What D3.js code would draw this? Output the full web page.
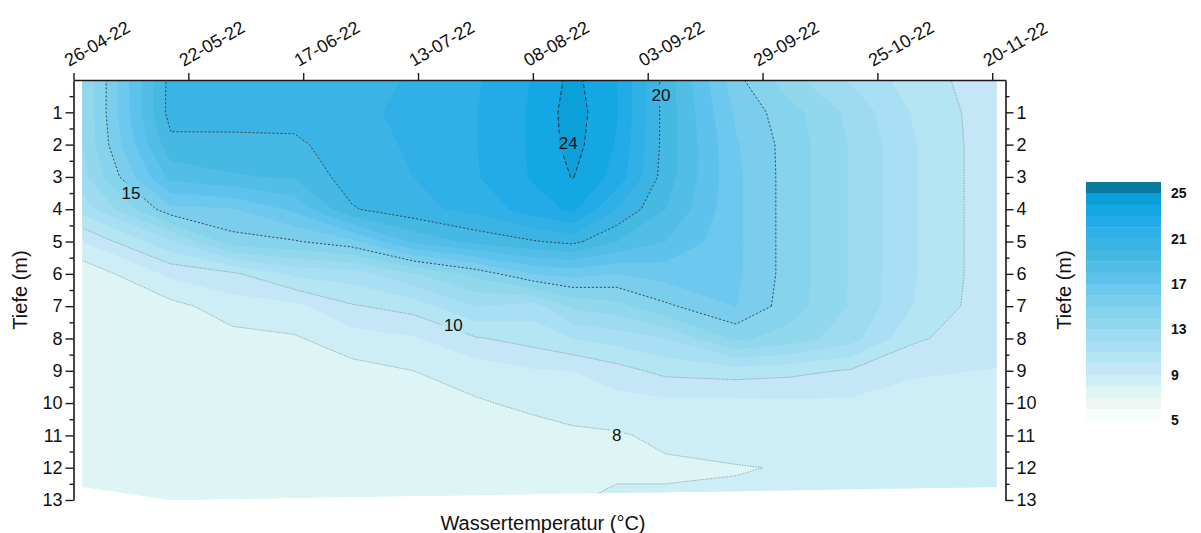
<!DOCTYPE html>
<html>
<head>
<meta charset="utf-8">
<script src="https://cdn.jsdelivr.net/npm/d3@7"></script>
<style>
  body { margin: 0; background: #fff; }
  svg { font-family: "Liberation Sans", Arial, sans-serif; }
</style>
</head>
<body>
<svg id="chart" width="1201" height="533"></svg>
<script>
// profile dates
var sampleDates = ["2022-04-28", "2022-05-18", "2022-06-01", "2022-06-15", "2022-06-28", "2022-07-12",
  "2022-07-26", "2022-08-08", "2022-08-17", "2022-08-27", "2022-09-07", "2022-09-23",
  "2022-10-05", "2022-10-19", "2022-11-02", "2022-11-21"];
// measuring depths (m)
var depths = [0, 1, 2, 3, 4, 5, 6, 7, 8, 9, 10, 11, 12, 13];
// deepest point of each profile (m)
var maxDepth = [12.6, 13.0, 12.97, 12.94, 12.91, 12.88, 12.85, 12.82, 12.8, 12.78, 12.76, 12.73, 12.7, 12.67, 12.64, 12.6];

// water temperature (°C), one profile per date, surface to bottom
var t0428 = [13.0, 13.0, 13.0, 12.6, 11.4, 9.0, 7.3, 7.2, 7.2, 7.1, 7.1, 7.1, 7.1, 7.1];
var t0518 = [20.4, 20.45, 19.7, 18.3, 15.7, 11.8, 9.2, 7.7, 7.5, 7.4, 7.3, 7.3, 7.3, 7.3];
var t0601 = [20.6, 20.55, 19.65, 18.9, 15.9, 14.6, 9.8, 8.5, 7.7, 7.5, 7.4, 7.4, 7.3, 7.3];
var t0615 = [20.7, 20.5, 19.75, 19.1, 17.2, 14.9, 11.2, 8.7, 7.9, 7.6, 7.5, 7.4, 7.4, 7.3];
var t0628 = [20.8, 20.8, 20.7, 20.5, 19.9, 15.7, 11.5, 9.9, 8.5, 7.7, 7.6, 7.5, 7.5, 7.4];
var t0712 = [21.05, 21.2, 21.1, 21.0, 20.7, 18.2, 12.9, 10.4, 8.9, 8.0, 7.7, 7.6, 7.5, 7.5];
var t0726 = [21.85, 21.95, 21.95, 21.9, 21.3, 19.3, 14.3, 12.0, 9.9, 8.4, 7.9, 7.7, 7.6, 7.6];
var t0808 = [23.05, 23.15, 23.15, 23.1, 22.5, 19.9, 16.0, 11.5, 10.4, 8.9, 8.2, 7.65, 7.6, 7.6];
var t0817 = [24.3, 24.5, 24.4, 24.05, 23.2, 20.3, 16.3, 13.2, 11.0, 9.0, 8.35, 7.85, 7.7, 7.9];
var t0827 = [23.0, 23.05, 22.9, 22.6, 21.0, 19.0, 16.0, 13.6, 11.4, 9.6, 8.6, 7.9, 7.75, 8.25];
var t0907 = [19.6, 19.6, 19.6, 19.5, 19.0, 18.0, 16.4, 14.8, 12.0, 10.3, 8.7, 8.2, 7.85, 8.15];
var t0923 = [15.3, 15.8, 16.1, 16.2, 16.2, 16.2, 16.2, 16.0, 14.2, 10.5, 8.7, 8.45, 7.95, 8.15];
var t1005 = [13.4, 14.4, 14.6, 14.6, 14.6, 14.6, 14.6, 14.5, 13.6, 10.3, 8.8, 8.6, 8.05, 8.3];
var t1019 = [11.9, 12.7, 12.9, 12.9, 12.9, 12.9, 12.9, 12.9, 12.4, 9.9, 8.8, 8.7, 8.5, 8.5];
var t1102 = [10.5, 10.9, 11.1, 11.1, 11.1, 11.1, 11.1, 11.0, 10.2, 9.05, 8.85, 8.75, 8.65, 8.6];
var t1121 = [9.4, 9.35, 9.3, 9.3, 9.3, 9.3, 9.3, 9.25, 9.2, 8.98, 8.85, 8.75, 8.7, 8.65];
var profiles = [t0428, t0518, t0601, t0615, t0628, t0712, t0726, t0808, t0817, t0827,
  t0907, t0923, t1005, t1019, t1102, t1121];

// colour levels (°C) and their fills
var levels = [5, 6, 7, 8, 9, 10, 11, 12, 13, 14, 15, 16, 17, 18, 19, 20, 21, 22, 23, 24, 25];
var bandColors = ["#f6fdfd", "#eef6f4", "#ddf6f5", "#cdeef6", "#c4e6f6", "#b4e5f3", "#a9dff4",
  "#9edbf0", "#91d8ec", "#85d3ec", "#7bcdee", "#6cc8ee", "#5ec3ec", "#52bee8", "#46b8e4",
  "#3bb4e5", "#2fb0e6", "#22abe6", "#14a7e4", "#0ca0da", "#0a7b9e"];
var legendTicks = [5, 9, 13, 17, 21, 25];

// drawn isotherms and where their labels sit
var isoLines = [8, 10, 15, 20, 24];
var isoLabels = [
  {value: 15, date: "2022-05-09", depth: 3.5},
  {value: 10, date: "2022-07-21", depth: 7.6},
  {value: 8, date: "2022-08-27", depth: 11.0},
  {value: 20, date: "2022-09-06", depth: 0.48},
  {value: 24, date: "2022-08-16", depth: 1.98}
];

var dateTicks = ["2022-04-26", "2022-05-22", "2022-06-17", "2022-07-13", "2022-08-08",
  "2022-09-03", "2022-09-29", "2022-10-25", "2022-11-20"];
var depthTicks = [1, 2, 3, 4, 5, 6, 7, 8, 9, 10, 11, 12, 13];
var depthMinor = [0.5, 1.5, 2.5, 3.5, 4.5, 5.5, 6.5, 7.5, 8.5, 9.5, 10.5, 11.5, 12.5];

var parse = d3.utcParse("%Y-%m-%d");
var svg = d3.select("#chart");
var defs = svg.append("defs");

var x = d3.scaleUtc()
  .domain([parse("2022-04-26"), parse("2022-11-23")])
  .range([73.5, 1005.5]);
var y = d3.scaleLinear().domain([0, 13]).range([80, 500]);

var nx = sampleDates.length, ny = depths.length;
var sx = sampleDates.map(function (d) { return x(parse(d)); });

// grid index -> pixel, piecewise along the real sample dates / depths
var col = d3.scaleLinear().domain(d3.range(nx)).range(sx).clamp(true);
var row = d3.scaleLinear().domain(d3.range(ny)).range(depths.map(y)).clamp(true);

var grid = new Array(nx * ny);
profiles.forEach(function (p, i) {
  p.forEach(function (v, j) { grid[j * nx + i] = v; });
});

var path = d3.geoPath(d3.geoTransform({
  point: function (px, py) { this.stream.point(col(px - 0.5), row(py - 0.5)); }
}));

var bands = d3.contours().size([nx, ny]).thresholds(levels)(grid);
var lines = d3.contours().size([nx, ny]).thresholds(isoLines)(grid);

// area covered by the profiles
var hull = sx.map(function (v) { return [v, y(0)]; })
  .concat(sx.map(function (v, i) { return [v, y(maxDepth[i])]; }).reverse());
defs.append("clipPath").attr("id", "hull")
  .append("path").attr("d", d3.line()(hull) + "Z");
defs.append("clipPath").attr("id", "inner")
  .append("rect")
  .attr("x", sx[0] + 1).attr("y", y(0) + 1)
  .attr("width", sx[nx - 1] - sx[0] - 2).attr("height", y(13) - y(0));

var plot = svg.append("g").attr("clip-path", "url(#hull)");

plot.selectAll("path.band")
  .data(bands)
  .enter().append("path")
  .attr("class", "band")
  .attr("d", path)
  .attr("fill", function (d, i) { return bandColors[i]; })
  .attr("stroke", function (d, i) { return bandColors[i]; })
  .attr("stroke-width", 0.4);

// labels first, so the mask can leave a gap in the lines
var labelG = svg.append("g");
labelG.selectAll("text")
  .data(isoLabels)
  .enter().append("text")
  .attr("x", function (d) { return x(parse(d.date)); })
  .attr("y", function (d) { return y(d.depth); })
  .attr("text-anchor", "middle")
  .attr("dominant-baseline", "central")
  .style("font-size", "17px")
  .attr("fill", "#111")
  .text(function (d) { return d.value; });

var mask = defs.append("mask").attr("id", "labelGap").attr("maskUnits", "userSpaceOnUse")
  .attr("x", 0).attr("y", 0).attr("width", 1201).attr("height", 533);
mask.append("rect").attr("width", 1201).attr("height", 533).attr("fill", "#fff");
labelG.selectAll("text").each(function () {
  var b = this.getBBox();
  mask.append("rect")
    .attr("x", b.x - 2).attr("y", b.y - 1)
    .attr("width", b.width + 4).attr("height", b.height + 2)
    .attr("fill", "#000");
});

var lineG = plot.append("g").attr("clip-path", "url(#inner)")
  .append("g").attr("mask", "url(#labelGap)");

lineG.selectAll("path.iso")
  .data(lines)
  .enter().append("path")
  .attr("class", "iso")
  .attr("d", path)
  .attr("fill", "none")
  .attr("stroke", function (d) { return d.value < 12 ? "#8a8f92" : (d.value > 22 ? "#1d3440" : "#3a4348"); })
  .attr("stroke-width", function (d) { return d.value < 12 ? 0.7 : 1; })
  .attr("stroke-dasharray", function (d) { return d.value < 12 ? "1.5,1.2" : (d.value > 22 ? "4,2.5" : "2,2"); });

labelG.raise();

/**
 * Axes
 */
function styleAxis(g) {
  g.select(".domain").attr("stroke", "#1a1a1a").attr("stroke-width", 1.6);
  g.selectAll(".tick line").attr("stroke", "#1a1a1a").attr("stroke-width", 1.4);
  g.selectAll(".tick text").attr("fill", "#111").style("font-size", "18px");
}

var topAxis = svg.append("g")
  .attr("transform", "translate(0," + y(0) + ")")
  .call(d3.axisTop(x)
    .tickValues(dateTicks.map(parse))
    .tickFormat(d3.utcFormat("%d-%m-%y"))
    .tickSize(7).tickSizeOuter(0))
  .call(styleAxis);
topAxis.selectAll(".tick text")
  .attr("text-anchor", "start")
  .attr("x", 0).attr("y", 0).attr("dy", 0)
  .attr("transform", "translate(-5,-13) rotate(-30)");

[["left", 73.5], ["right", 1005.5]].forEach(function (s) {
  var major = s[0] === "left" ? d3.axisLeft(y) : d3.axisRight(y);
  var minor = s[0] === "left" ? d3.axisLeft(y) : d3.axisRight(y);
  svg.append("g")
    .attr("transform", "translate(" + s[1] + ",0)")
    .call(major.tickValues(depthTicks).tickSize(8).tickSizeOuter(0).tickPadding(3))
    .call(styleAxis);
  svg.append("g")
    .attr("transform", "translate(" + s[1] + ",0)")
    .call(minor.tickValues(depthMinor).tickSize(4).tickSizeOuter(0).tickFormat(""))
    .call(styleAxis)
    .select(".domain").remove();
});

svg.append("text")
  .attr("transform", "translate(27," + y(6.5) + ") rotate(-90)")
  .attr("text-anchor", "middle")
  .style("font-size", "20px").attr("fill", "#111")
  .text("Tiefe (m)");
svg.append("text")
  .attr("transform", "translate(1071," + y(6.5) + ") rotate(-90)")
  .attr("text-anchor", "middle")
  .style("font-size", "20px").attr("fill", "#111")
  .text("Tiefe (m)");
svg.append("text")
  .attr("x", 543).attr("y", 530)
  .attr("text-anchor", "middle")
  .style("font-size", "20px").attr("fill", "#111")
  .text("Wassertemperatur (°C)");

/**
 * Colour scale
 */
var ly = d3.scaleLinear().domain([5, 26]).range([420, 182]);
var legend = svg.append("g");
legend.selectAll("rect")
  .data(levels)
  .enter().append("rect")
  .attr("x", 1086).attr("width", 75)
  .attr("y", function (d) { return ly(d + 1); })
  .attr("height", function (d) { return ly(d) - ly(d + 1) + 0.3; })
  .attr("fill", function (d, i) { return bandColors[i]; });
legend.selectAll("text")
  .data(legendTicks)
  .enter().append("text")
  .attr("x", 1171)
  .attr("y", function (d) { return ly(d); })
  .attr("dominant-baseline", "central")
  .style("font-size", "14px").style("font-weight", "bold").attr("fill", "#111")
  .text(function (d) { return d; });
</script>
</body>
</html>
